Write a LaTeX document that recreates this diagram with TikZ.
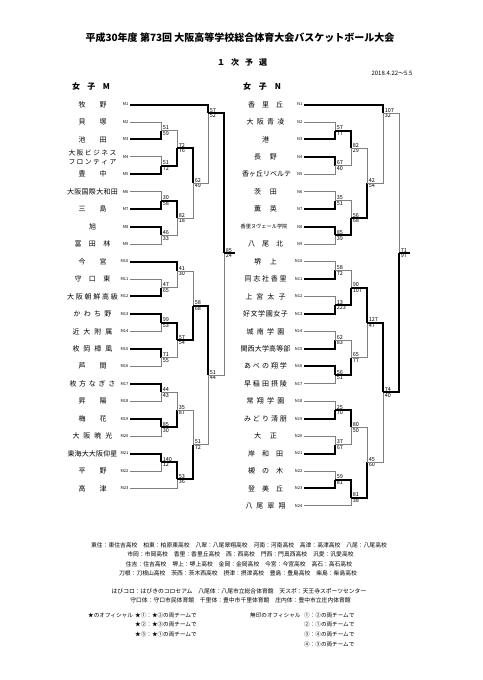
\documentclass[tikz,border=0pt]{standalone}
\usepackage{fontspec}
\setmainfont{Noto Sans CJK JP}
\usetikzlibrary{calc}

% spread the letters of a name over a fixed width
\def\spreadA#1{\ifx#1\relax\else\hfil#1\expandafter\spreadA\fi}
\def\spreadB#1{#1\spreadA}
\newcommand{\dist}[2]{\makebox[#1][s]{\expandafter\spreadB#2\relax}}

\tikzset{
  tname/.style={font=\fontsize{7}{8}\selectfont, inner sep=0pt},
  tcode/.style={font=\fontsize{4}{4}\selectfont, inner sep=1.5pt, anchor=east},
  scr/.style={font=\fontsize{5.5}{6}\selectfont, inner sep=0.6pt, xshift=1pt},
  wline/.style={line width=2pt, black},
  lline/.style={line width=0.8pt, black!50},
  hdr/.style={font=\bfseries\fontsize{8}{9}\selectfont, inner sep=0pt},
  foot/.style={font=\fontsize{5.8}{7}\selectfont, inner sep=0pt},
}

% #1 game, #2 upper input, #3 lower input, #4 x, #5 y out, #6/#7 scores, #8 winner a/b
\newcommand{\game}[8]{%
  \coordinate (#1) at (#4,#5);
  \if#8a
    \draw[lline] (#3) -- (#3 -| #1) -- (#1);
    \draw[wline] (#2) -- (#2 -| #1) -- (#1);
  \else
    \draw[lline] (#2) -- (#2 -| #1) -- (#1);
    \draw[wline] (#3) -- (#3 -| #1) -- (#1);
  \fi
  \node[scr, anchor=south west] (#1u) at (#1) {#6};
  \node[scr, anchor=north west] (#1l) at (#1) {#7};
}

\begin{document}
\begin{tikzpicture}[x=1pt, y=-1pt]
\useasboundingbox (0,0) rectangle (482,680);
\fill[white] (0,0) rectangle (482,680);

% titles
\node[font=\bfseries\fontsize{10}{11}\selectfont] (title) at (240,38) {平成30年度 第73回 大阪高等学校総合体育大会バスケットボール大会};
\node[hdr] (round) at (242,62) {\dist{50pt}{１次予選}};
\node[font=\fontsize{6}{6}\selectfont] (date) at (392,73) {2018.4.22～5.5};
\node[hdr] (headM) at (91,86) {\dist{38pt}{女子M}};
\node[hdr] (headN) at (262,86) {\dist{38pt}{女子N}};

% team codes
\foreach \i in {1,...,23}
  \node[tcode] (cm\i) at (130,{104.5+17.45*(\i-1)}) {M\i};
\foreach \i in {1,...,24}
  \node[tcode] (cn\i) at (304,{104.5+17.45*(\i-1)}) {N\i};

% team names
\foreach \i/\w/\nm in {1/28/牧野, 2/28/貝塚, 3/28/池田, 5/28/豊中, 6/51/大阪国際大和田,
    7/28/三島, 8/7/旭, 9/36/富田林, 10/28/今宮, 11/36/守口東, 12/51/大阪朝鮮高級,
    13/38/かわち野, 14/40/近大附属, 15/40/枚岡樟風, 16/28/芦間, 17/46/枚方なぎさ,
    18/28/昇陽, 19/28/梅花, 20/40/大阪暁光, 21/50/東海大大阪仰星, 22/28/平野, 23/28/高津}
  \node[tname] (mn\i) at (92.5,{104.5+17.45*(\i-1)}) {\dist{\w pt}{\nm}};
\node[tname, font=\fontsize{6.8}{9.5}\selectfont, align=center] (mn4) at (92.5,157.3)
  {\dist{48pt}{大阪ビジネス}\\\dist{48pt}{フロンティア}};

\foreach \i/\w/\nm in {1/35/香里丘, 2/38/大阪青凌, 3/7/港, 4/23/長野, 5/47/香ヶ丘リベルテ,
    6/23/茨田, 7/23/薫英, 9/35/八尾北, 10/23/堺上, 11/42/同志社香里, 12/40/上宮太子,
    13/45/好文学園女子, 14/38/城南学園, 15/50/関西大学高等部, 16/43/あべの翔学,
    17/43/早稲田摂陵, 18/38/常翔学園, 19/43/みどり清朋, 20/23/大正, 21/35/岸和田,
    22/35/槻の木, 23/35/登美丘, 24/40/八尾翠翔}
  \node[tname] (nn\i) at (265.5,{104.5+17.45*(\i-1)}) {\dist{\w pt}{\nm}};
\node[tname, font=\fontsize{5.2}{6}\selectfont] (nn8) at (264,226.65) {香里ヌヴェール学院};

% bracket M
\game{g23}{cm2.east}{cm3.east}{161}{130.7}{51}{59}{b}
\game{g45}{cm4.east}{cm5.east}{161}{165.6}{51}{72}{b}
\game{g25}{g23}{g45}{177}{148.1}{72}{76}{b}
\game{g67}{cm6.east}{cm7.east}{161}{200.5}{30}{58}{b}
\game{g89}{cm8.east}{cm9.east}{161}{235.4}{46}{33}{a}
\game{g69}{g67}{g89}{177}{217.9}{82}{18}{a}
\game{g29}{g25}{g69}{193}{183}{62}{49}{a}
\game{g19}{cm1.east}{g29}{208}{113}{57}{52}{a}
\game{g1112}{cm11.east}{cm12.east}{161}{287.7}{47}{65}{b}
\game{g1012}{cm10.east}{g1112}{177}{271}{41}{30}{a}
\game{g1314}{cm13.east}{cm14.east}{161}{322.6}{99}{53}{a}
\game{g1516}{cm15.east}{cm16.east}{161}{357.5}{71}{55}{a}
\game{g1316}{g1314}{g1516}{177}{340}{57}{54}{a}
\game{g1016}{g1012}{g1316}{193}{305.5}{58}{68}{b}
\game{g1718}{cm17.east}{cm18.east}{161}{392.4}{44}{43}{a}
\game{g1920}{cm19.east}{cm20.east}{161}{427.3}{85}{30}{a}
\game{g1720}{g1718}{g1920}{177}{409.9}{35}{87}{b}
\game{g2122}{cm21.east}{cm22.east}{161}{462.2}{140}{12}{a}
\game{g2123}{g2122}{cm23.east}{177}{479}{53}{36}{a}
\game{g1723}{g1720}{g2123}{193}{444.5}{51}{72}{b}
\game{g1023}{g1016}{g1723}{208}{375}{51}{44}{a}
\game{gM}{g19}{g1023}{224}{253}{85}{24}{a}
\coordinate (endM) at (235,253);
\draw[wline] (gM) -- (endM);

% bracket N
\game{h23}{cn2.east}{cn3.east}{335}{130.7}{57}{77}{b}
\game{h45}{cn4.east}{cn5.east}{335}{165.6}{67}{40}{a}
\game{h25}{h23}{h45}{351}{148.1}{82}{29}{a}
\game{h67}{cn6.east}{cn7.east}{335}{200.5}{35}{51}{b}
\game{h89}{cn8.east}{cn9.east}{335}{235.4}{85}{39}{a}
\game{h69}{h67}{h89}{351}{218}{56}{68}{b}
\game{h29}{h25}{h69}{367}{183}{42}{54}{b}
\game{h19}{cn1.east}{h29}{383}{113}{107}{32}{a}
\game{h1011}{cn10.east}{cn11.east}{335}{270.3}{58}{72}{b}
\game{h1213}{cn12.east}{cn13.east}{335}{305.2}{13}{223}{b}
\game{h1013}{h1011}{h1213}{351}{287.7}{90}{107}{b}
\game{h1415}{cn14.east}{cn15.east}{335}{340.1}{62}{83}{b}
\game{h1617}{cn16.east}{cn17.east}{335}{375}{56}{51}{a}
\game{h1417}{h1415}{h1617}{351}{357.5}{65}{77}{b}
\game{h1017}{h1013}{h1417}{367}{322.6}{127}{47}{a}
\game{h1819}{cn18.east}{cn19.east}{335}{409.9}{25}{70}{b}
\game{h2021}{cn20.east}{cn21.east}{335}{444.8}{37}{67}{b}
\game{h1821}{h1819}{h2021}{351}{427.3}{80}{50}{a}
\game{h2223}{cn22.east}{cn23.east}{335}{479.7}{59}{81}{b}
\game{h2224}{h2223}{cn24.east}{351}{497.5}{81}{38}{a}
\game{h1824}{h1821}{h2224}{367}{462}{45}{60}{b}
\game{h1024}{h1017}{h1824}{383}{392.3}{74}{40}{a}
\game{gN}{h19}{h1024}{399}{253}{71}{97}{b}
\coordinate (endN) at (410,253);
\draw[wline] (gN) -- (endN);

% notes
\node[foot] (abbr1) at (239,545) {東住：東住吉高校　柏東：柏原東高校　八翠：八尾翠翔高校　河南：河南高校　高津：高津高校　八尾：八尾高校};
\node[foot] (abbr2) at (240.5,554.5) {市岡：市岡高校　香里：香里丘高校　西：西高校　門西：門真西高校　汎愛：汎愛高校};
\node[foot] (abbr3) at (239,564) {住吉：住吉高校　堺上：堺上高校　金岡：金岡高校　今宮：今宮高校　高石：高石高校};
\node[foot] (abbr4) at (238,573.5) {刀根：刀根山高校　茨西：茨木西高校　摂津：摂津高校　豊島：豊島高校　柴島：柴島高校};
\node[foot] (hall1) at (239,591) {はびコロ：はびきのコロセアム　八尾体：八尾市立総合体育館　天スポ：天王寺スポーツセンター};
\node[foot] (hall2) at (240.5,600) {守口体：守口市民体育館　千里体：豊中市千里体育館　庄内体：豊中市立庄内体育館};

\node[foot, font=\fontsize{5.6}{7}\selectfont, anchor=west] (offS) at (88,615) {★のオフィシャル};
\node[foot, font=\fontsize{5.6}{7}\selectfont, anchor=west] (offS1) at (135,615) {★①：★②の両チームで};
\node[foot, font=\fontsize{5.6}{7}\selectfont, anchor=west] (offS2) at (135,624.5) {★②：★③の両チームで};
\node[foot, font=\fontsize{5.6}{7}\selectfont, anchor=west] (offS3) at (135,634.5) {★③：★①の両チームで};
\node[foot, font=\fontsize{5.6}{7}\selectfont, anchor=west] (offP) at (250,615) {無印のオフィシャル};
\node[foot, font=\fontsize{5.6}{7}\selectfont, anchor=west] (offP1) at (304,615) {①：②の両チームで};
\node[foot, font=\fontsize{5.6}{7}\selectfont, anchor=west] (offP2) at (304,624.5) {②：①の両チームで};
\node[foot, font=\fontsize{5.6}{7}\selectfont, anchor=west] (offP3) at (304,634.5) {③：④の両チームで};
\node[foot, font=\fontsize{5.6}{7}\selectfont, anchor=west] (offP4) at (304,644) {④：③の両チームで};
\end{tikzpicture}
\end{document}
